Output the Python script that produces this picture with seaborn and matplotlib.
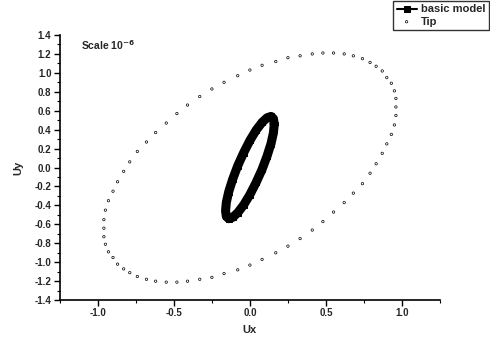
import numpy as np
import matplotlib
matplotlib.use("Agg")
import matplotlib.pyplot as plt
import seaborn as sns

# basic model orbit (inner ellipse)
model_x = [0.16, 0.155, 0.139, 0.113, 0.08, 0.041, 0.0, -0.041, -0.08, -0.113, -0.139, -0.155,
           -0.16, -0.155, -0.139, -0.113, -0.08, -0.041, 0.0, 0.041, 0.08, 0.113, 0.139, 0.155, 0.16]
model_y = [0.458, 0.516, 0.54, 0.526, 0.477, 0.395, 0.286, 0.157, 0.019, -0.122, -0.254, -0.368,
           -0.458, -0.516, -0.54, -0.526, -0.477, -0.395, -0.286, -0.157, -0.019, 0.122, 0.254, 0.368, 0.458]

# Tip orbit (outer scattered points)
tip_x = [0.96, 0.96, 0.95, 0.93, 0.90, 0.87, 0.83, 0.79, 0.74, 0.68, 0.62, 0.55, 0.48, 0.41, 0.33, 0.25,
         0.17, 0.08, 0.00, -0.08, -0.17, -0.25, -0.33, -0.41, -0.48, -0.55, -0.62, -0.68, -0.74, -0.79,
         -0.83, -0.87, -0.90, -0.93, -0.95, -0.96, -0.96,
         -0.96, -0.95, -0.93, -0.90, -0.87, -0.83, -0.79, -0.74, -0.68, -0.62, -0.55, -0.48, -0.41, -0.33,
         -0.25, -0.17, -0.08, 0.00, 0.08, 0.17, 0.25, 0.33, 0.41, 0.48, 0.55, 0.62, 0.68, 0.74, 0.79,
         0.83, 0.87, 0.90, 0.93, 0.95, 0.96]
tip_y = [0.64, 0.73, 0.81, 0.89, 0.95, 1.02, 1.07, 1.11, 1.15, 1.18, 1.20, 1.21, 1.21, 1.20, 1.18, 1.16,
         1.12, 1.08, 1.03, 0.97, 0.90, 0.83, 0.75, 0.66, 0.57, 0.47, 0.37, 0.27, 0.17, 0.06,
         -0.04, -0.15, -0.25, -0.35, -0.45, -0.55, -0.64,
         -0.73, -0.81, -0.89, -0.95, -1.02, -1.07, -1.11, -1.15, -1.18, -1.20, -1.21, -1.21, -1.20, -1.18,
         -1.16, -1.12, -1.08, -1.03, -0.97, -0.90, -0.83, -0.75, -0.66, -0.57, -0.47, -0.37, -0.27, -0.17,
         -0.06, 0.04, 0.15, 0.25, 0.35, 0.45, 0.55]

x_ticks = [-1.0, -0.5, 0.0, 0.5, 1.0]
y_ticks = [-1.4, -1.2, -1.0, -0.8, -0.6, -0.4, -0.2, 0.0, 0.2, 0.4, 0.6, 0.8, 1.0, 1.2, 1.4]

sns.set_theme(style="ticks")
plt.rcParams['font.family'] = ['Liberation Sans', 'DejaVu Sans']
plt.rcParams['font.weight'] = 'bold'

fig, ax = plt.subplots(figsize=(4.9, 3.43), dpi=100)
fig.subplots_adjust(left=0.122, right=0.898, bottom=0.125, top=0.898)

sns.lineplot(x=model_x, y=model_y, sort=False, estimator=None, ax=ax, color='black', linewidth=6.5,
             marker='s', markersize=4, markeredgecolor='black', label='basic model')
sns.scatterplot(x=tip_x, y=tip_y, ax=ax, marker='o', s=3, facecolor='none',
                edgecolor='black', linewidth=0.5, label='Tip')

ax.set_xlim(-1.25, 1.25)
ax.set_ylim(-1.4, 1.4)
ax.set_xticks(x_ticks)
ax.set_xticklabels([f"{v:.1f}" for v in x_ticks])
ax.set_yticks(y_ticks)
ax.set_yticklabels([f"{v:.1f}" for v in y_ticks])
ax.xaxis.set_minor_locator(matplotlib.ticker.MultipleLocator(0.25))
ax.yaxis.set_minor_locator(matplotlib.ticker.MultipleLocator(0.1))
ax.tick_params(which='major', direction='out', length=4, width=1, labelsize=7, color='black', pad=2)
ax.tick_params(which='minor', direction='out', length=2, width=0.8, color='black')
sns.despine(ax=ax)
for s in ['left', 'bottom']:
    ax.spines[s].set_color('black')
    ax.spines[s].set_linewidth(1.2)

ax.set_xlabel('Ux', fontsize=8, fontweight='bold', labelpad=5)
ax.set_ylabel('Uy', fontsize=8, fontweight='bold', labelpad=8)
ax.text(-1.11, 1.29, 'Scale 10$^{-6}$', fontsize=7.5, fontweight='bold', va='center')

leg = ax.legend(loc='upper right', bbox_to_anchor=(1.0, 1.0), bbox_transform=fig.transFigure,
                fontsize=8, frameon=True, fancybox=False, edgecolor='black', borderpad=0.3,
                labelspacing=0.2, handlelength=1.8, handletextpad=0.4, borderaxespad=0.1)
leg.get_frame().set_linewidth(1)
for h in leg.legend_handles:
    if h.get_label() == 'basic model':
        h.set_linewidth(1.5)

fig.savefig("out.png", dpi=100)
